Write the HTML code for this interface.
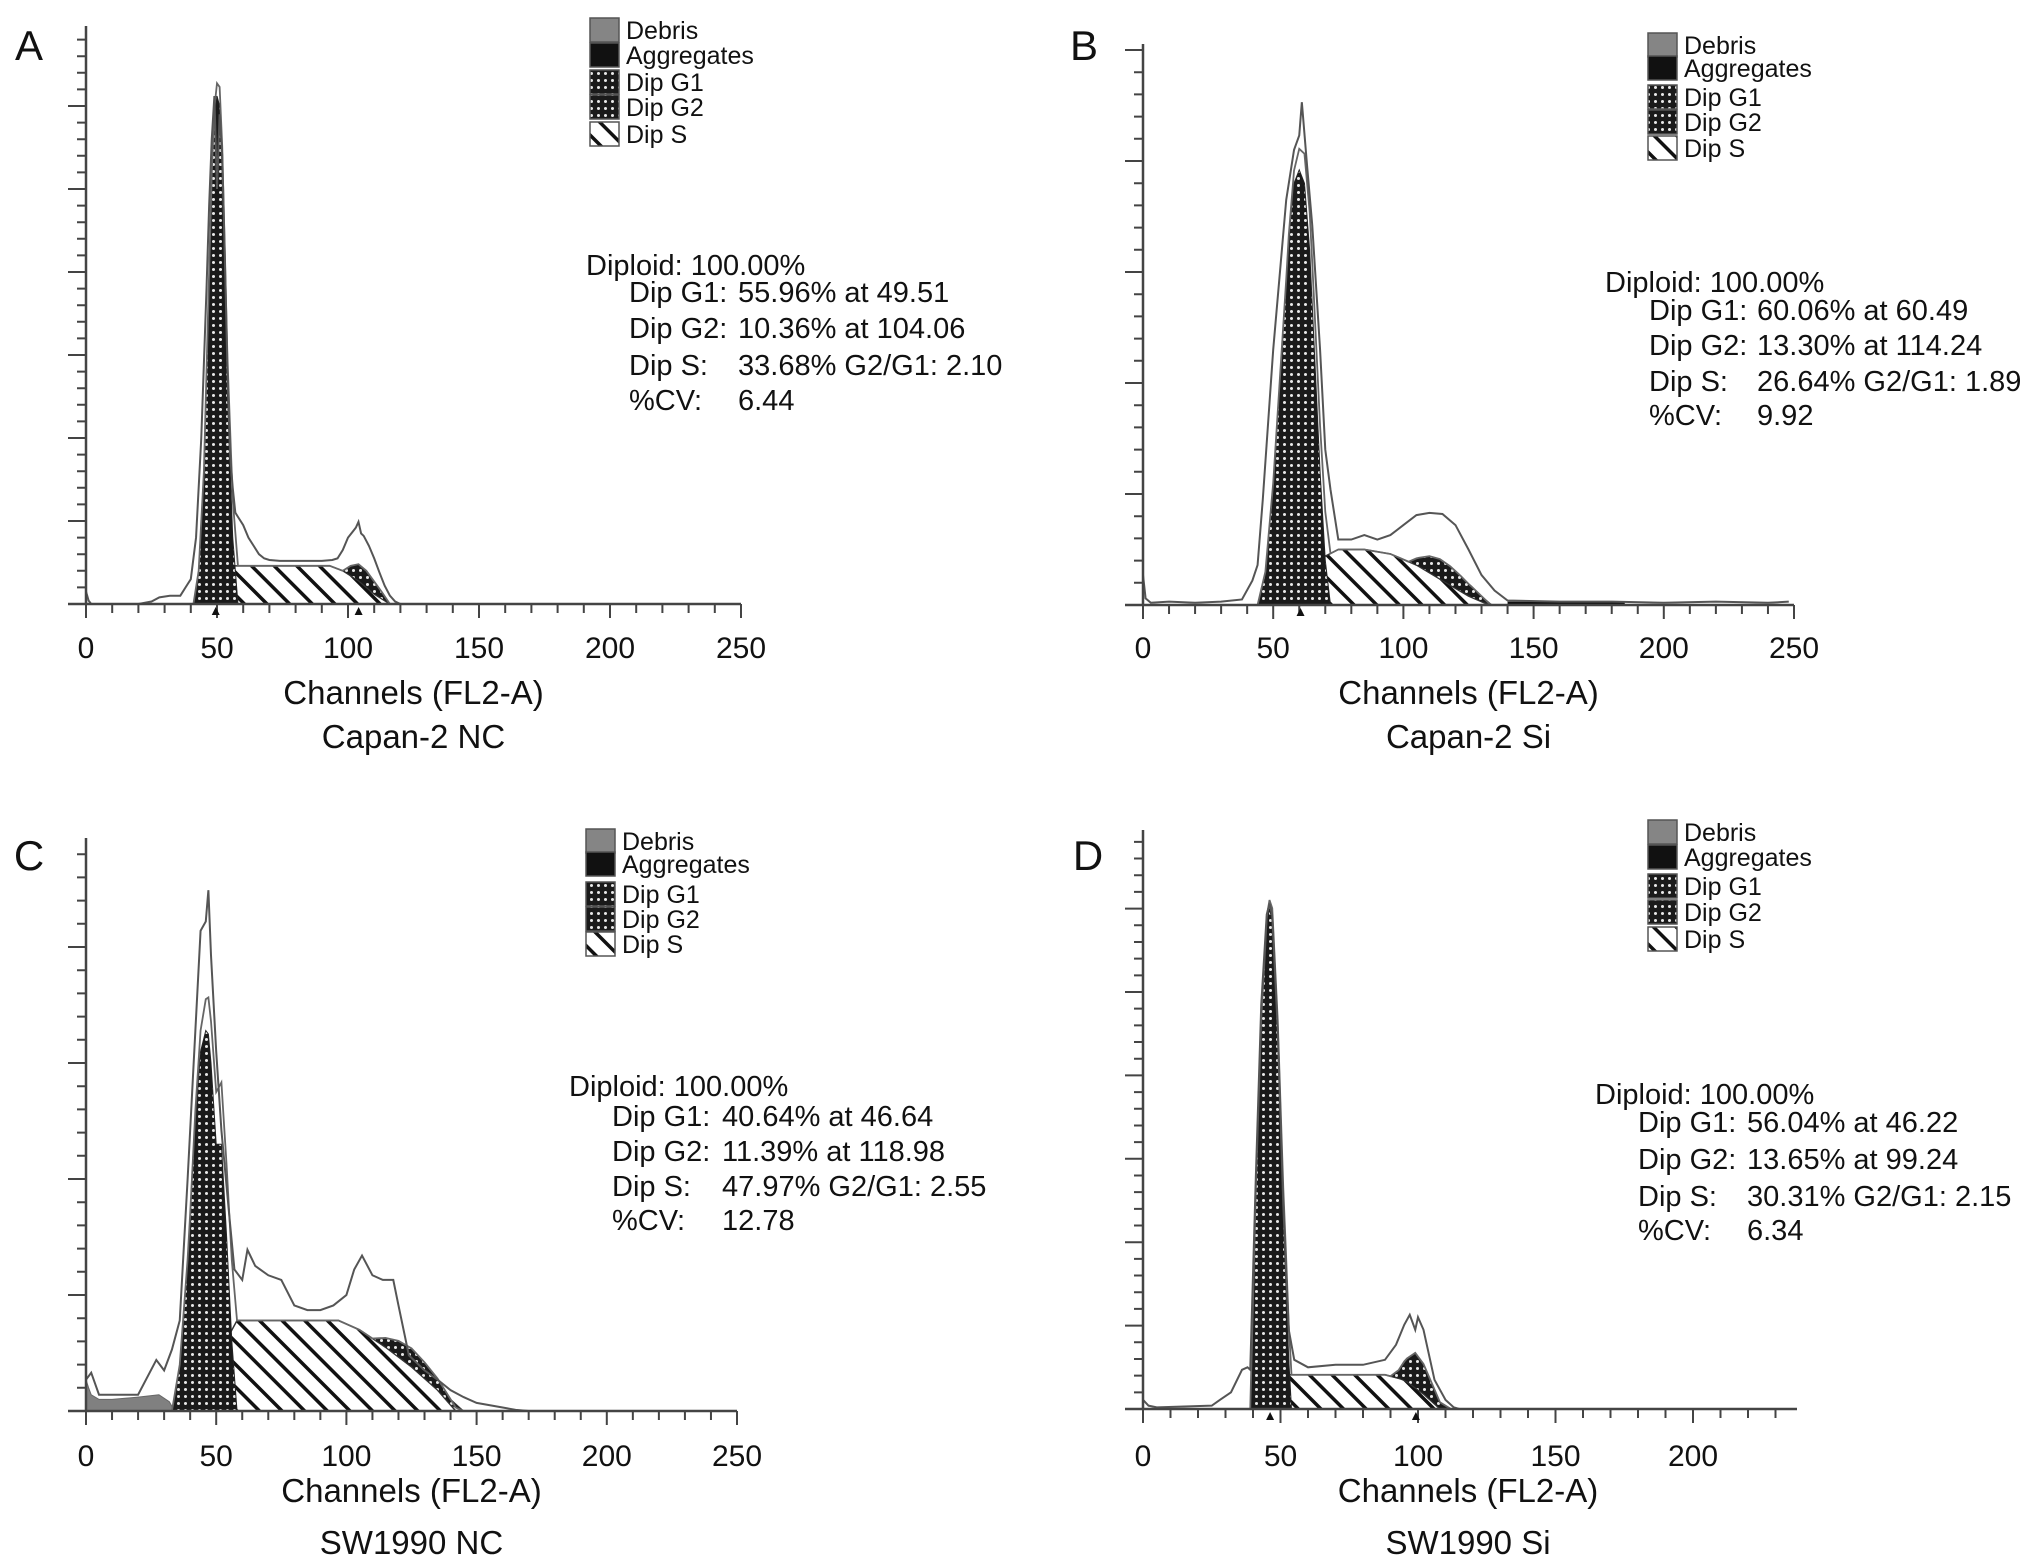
<!DOCTYPE html>
<html><head><meta charset="utf-8"><style>
html,body{margin:0;padding:0;background:#fff;}
svg{display:block;font-family:"Liberation Sans",Arial,sans-serif;}
</style></head><body>
<svg id="fig" width="2032" height="1560" viewBox="0 0 2032 1560" xmlns="http://www.w3.org/2000/svg">
<defs>
<pattern id="dots" width="7" height="7" patternUnits="userSpaceOnUse">
<rect width="7" height="7" fill="#1a1a1a"/><circle cx="3.5" cy="3.5" r="1.5" fill="#e8e8e8"/>
</pattern>
<pattern id="hatch" width="16" height="16" patternUnits="userSpaceOnUse" patternTransform="rotate(-45)">
<rect width="16" height="16" fill="#fff"/><rect x="0" y="0" width="3.5" height="16" fill="#111"/>
</pattern>
</defs>
</svg>
<script>
// ---- Panel A data (Capan-2 NC) ----
const aRawCh=[0,1,2,5,20,25,28,32,36,38,40,42,44,46,47,48,49,50,51,52,53,54,55,56,57,58,60,62,64,66,68,70,74,78,82,86,90,94,96,98,100,102,103,104,105,106,108,110,112,114,116,118,120];
const aRaw=[15,4,0,0,0,3,8,10,10,20,30,80,200,380,480,560,612,500,590,540,420,280,180,140,110,105,95,80,70,60,55,53,52,52,52,52,52,53,55,65,80,88,92,99,85,82,70,55,38,22,10,3,0];
const aG1Ch=[41,43,45,47,48,49,50,51,52,53,54,56,58];
const aG1=[0,40,160,400,520,590,612,600,520,380,250,80,0];
const aSCh=[48,54,60,93,98,104,110,116];
const aS=[0,46,46,46,40,28,12,0];
const aG2Ch=[98,101,104,107,110,113,116];
const aG2=[0,12,20,20,15,8,0];
const aDebCh=[], aDeb=[], aAggCh=[], aAgg=[];
// ---- Panel B data (Capan-2 Si) ----
const bRawCh=[0,1,3,10,20,30,38,42,44,46,50,55,58,60,61,63,65,68,70,72,75,80,85,90,95,100,105,110,115,120,125,130,135,140,160,180,200,220,240,248];
const bRaw=[27,6,2,3,2,3,5,22,36,95,230,365,410,423,453,396,342,230,140,104,59,59,63,59,63,72,81,83,82,72,50,27,13,4,3,3,2,3,2,3];
const bG1Ch=[44,47,50,53,56,58,60,62,64,66,68,70,72];
const bG1=[0,30,110,220,330,380,392,380,320,220,120,40,0];
const bSCh=[55,65,75,85,95,105,115,125,133];
const bS=[0,38,50,50,46,36,22,8,0];
const bG2Ch=[102,106,110,114,118,122,126,130,134];
const bG2=[0,8,15,18,17,14,10,5,0];
const bDebCh=[], bDeb=[];
const bAggCh=[140,185];
const bAgg=[3,3];
// ---- Panel C data (SW1990 NC) ----
const cRawCh=[0,2,5,10,20,27,30,33,36,39,42,44,46,47,48,50,52,55,57,60,62,65,70,75,80,85,90,95,100,103,106,110,114,118,120,124,130,135,140,145,150,160,165,170];
const cRaw=[27,33,14,14,14,44,35,53,78,199,328,414,422,449,393,310,242,169,122,113,139,125,117,113,91,87,87,91,100,122,134,117,113,113,91,48,35,27,18,12,7,3,1,0];
const cG1Ch=[33,36,39,42,44,46,47,48,50,52,54,56,58];
const cG1=[0,40,130,250,310,328,325,300,230,230,150,60,0];
const cSCh=[40,50,58,97,105,115,125,135,142];
const cS=[0,45,78,78,70,55,38,18,0];
const cG2Ch=[110,115,120,125,130,135,140,145];
const cG2=[0,8,14,16,14,10,5,0];
const cDebCh=[0,1,2,5,10,20,28,32,34];
const cDeb=[27,20,14,10,10,12,14,8,0];
const cAggCh=[], cAgg=[];
// ---- Panel D data (SW1990 Si) ----
const dRawCh=[0,2,5,15,25,28,32,36,38,39,41,43,45,46,47,49,51,53,55,60,70,80,88,92,95,97,99,100,102,104,106,110,113,115];
const dRaw=[11,4,2,3,4,11,20,47,50,47,275,485,593,606,592,455,245,95,59,50,53,53,59,77,101,113,95,110,95,65,35,11,2,0];
const dG1Ch=[39,41,43,45,46,47,49,51,53,54];
const dG1=[0,260,470,585,600,585,440,230,60,0];
const dSCh=[44,52,88,95,102,108];
const dS=[0,41,41,35,18,0];
const dG2Ch=[90,93,96,99,102,105,108,112];
const dG2=[0,10,28,42,36,22,8,0];
const dDebCh=[], dDeb=[], dAggCh=[], dAgg=[];
// ---- axis tick labels ----
const xTicksABC=[0,50,100,150,200,250];
const xTicksD=[0,50,100,150,200];
const legendLabels=["Debris","Aggregates","Dip G1","Dip G2","Dip S"];
const statsA=["Diploid: 100.00%","Dip G1:","55.96% at 49.51","Dip G2:","10.36% at 104.06","Dip S:","33.68% G2/G1: 2.10","%CV:","6.44"];
const statsB=["Diploid: 100.00%","Dip G1:","60.06% at 60.49","Dip G2:","13.30% at 114.24","Dip S:","26.64% G2/G1: 1.89","%CV:","9.92"];
const statsC=["Diploid: 100.00%","Dip G1:","40.64% at 46.64","Dip G2:","11.39% at 118.98","Dip S:","47.97% G2/G1: 2.55","%CV:","12.78"];
const statsD=["Diploid: 100.00%","Dip G1:","56.04% at 46.22","Dip G2:","13.65% at 99.24","Dip S:","30.31% G2/G1: 2.15","%CV:","6.34"];

const NS="http://www.w3.org/2000/svg";
const svg=document.getElementById('fig');
function mk(tag,attrs,parent){const e=document.createElementNS(NS,tag);for(const k in attrs)e.setAttribute(k,attrs[k]);(parent||svg).appendChild(e);return e;}
function interp(xs,ys,x){if(!xs.length||x<=xs[0]||x>=xs[xs.length-1])return 0;for(let i=1;i<xs.length;i++){if(x<=xs[i]){const t=(x-xs[i-1])/(xs[i]-xs[i-1]);return ys[i-1]+t*(ys[i]-ys[i-1]);}}return 0;}

const panels=[
 {id:'a',letter:'A',lx:29,ly:45,x0:86,x1:741,chMax:250,base:604,pxPer100:83,top:26,xt:xTicksABC,
  raw:[aRawCh,aRaw],g1:[aG1Ch,aG1],s:[aSCh,aS],g2:[aG2Ch,aG2],deb:[aDebCh,aDeb],agg:[aAggCh,aAgg],
  legX:590,legY:[30,55,82,107,134],stats:statsA,sx:586,sy:[265,292,328,365,400],si:629,sv:738,title:'Capan-2 NC',tickY:647,chY:692,tiY:736,g1c:49.51,g2c:104.06},
 {id:'b',letter:'B',lx:1084,ly:45,x0:1143,x1:1794,chMax:250,base:605,pxPer100:111,top:44,xt:xTicksABC,
  raw:[bRawCh,bRaw],g1:[bG1Ch,bG1],s:[bSCh,bS],g2:[bG2Ch,bG2],deb:[bDebCh,bDeb],agg:[bAggCh,bAgg],
  legX:1648,legY:[45,68,97,122,148],stats:statsB,sx:1605,sy:[282,310,345,381,415],si:1649,sv:1757,title:'Capan-2 Si',tickY:647,chY:692,tiY:736,g1c:60.49,g2c:null},
 {id:'c',letter:'C',lx:29,ly:855,x0:86,x1:737,chMax:250,base:1411,pxPer100:116,top:838,xt:xTicksABC,
  raw:[cRawCh,cRaw],g1:[cG1Ch,cG1],s:[cSCh,cS],g2:[cG2Ch,cG2],deb:[cDebCh,cDeb],agg:[cAggCh,cAgg],
  legX:586,legY:[841,864,894,919,944],stats:statsC,sx:569,sy:[1086,1116,1151,1186,1220],si:612,sv:722,title:'SW1990 NC',tickY:1455,chY:1490,tiY:1542,g1c:null,g2c:null},
 {id:'d',letter:'D',lx:1088,ly:855,x0:1143,x1:1693,chMax:200,base:1409,pxPer100:83.4,top:830,xt:xTicksD,axEnd:1797,
  raw:[dRawCh,dRaw],g1:[dG1Ch,dG1],s:[dSCh,dS],g2:[dG2Ch,dG2],deb:[dDebCh,dDeb],agg:[dAggCh,dAgg],
  legX:1648,legY:[832,857,886,912,939],stats:statsD,sx:1595,sy:[1094,1122,1159,1196,1230],si:1638,sv:1747,title:'SW1990 Si',tickY:1455,chY:1490,tiY:1542,g1c:46.22,g2c:99.24}
];

panels.forEach(p=>{
 const g=mk('g',{});
 
 
 const X=c=>p.x0+(p.x1-p.x0)*c/p.chMax;
 const Y=v=>p.base-v*p.pxPer100/100;
 const axEnd=p.axEnd||p.x1;
 const L=mk('text',{x:p.lx,y:p.ly+15,'font-size':42,'text-anchor':'middle',fill:'#111'},g);L.textContent=p.letter;
 
 
 const sPts=p.s[0].map((c,i)=>X(c)+','+Y(p.s[1][i]));
 const sPoly=mk('polygon',{points:sPts.join(' '),fill:'url(#hatch)',stroke:'#333','stroke-width':1.5},g);
 
 
 if(p.deb[0].length){
  const pts=p.deb[0].map((c,i)=>X(c)+','+Y(p.deb[1][i]));
  pts.push(X(p.deb[0][p.deb[0].length-1])+','+Y(0));pts.push(X(p.deb[0][0])+','+Y(0));
  const d=mk('polygon',{points:pts.join(' '),fill:'#808080',stroke:'#666','stroke-width':1},g);
  
  
 }
 if(p.agg[0].length){
  const a=mk('rect',{x:X(p.agg[0][0]),y:Y(p.agg[1][0]),width:X(p.agg[0][1])-X(p.agg[0][0]),height:Y(0)-Y(p.agg[1][0]),fill:'#111'},g);
  
  
 }
 const g2Top=p.g2[0].map((c,i)=>X(c)+','+Y(p.g2[1][i]+interp(p.s[0],p.s[1],c)));
 const g2Bot=p.g2[0].slice().reverse().map(c=>X(c)+','+Y(interp(p.s[0],p.s[1],c)));
 const g2p=mk('polygon',{points:g2Top.concat(g2Bot).join(' '),fill:'url(#dots)',stroke:'#333','stroke-width':1},g);
 
 
 const g1Pts=p.g1[0].map((c,i)=>X(c)+','+Y(p.g1[1][i]));
 const g1p=mk('polygon',{points:g1Pts.join(' '),fill:'url(#dots)',stroke:'#222','stroke-width':1},g);
 
 
 const allCh=[...new Set([].concat(p.g1[0],p.s[0],p.g2[0]))].sort((a,b)=>a-b);
 const fit=allCh.map(c=>X(c)+','+Y(interp(p.g1[0],p.g1[1],c)+interp(p.s[0],p.s[1],c)+interp(p.g2[0],p.g2[1],c)));
 const fl=mk('polyline',{points:fit.join(' '),fill:'none',stroke:'#666','stroke-width':1.8},g);
 
 
 const rp=p.raw[0].map((c,i)=>X(c)+','+Y(p.raw[1][i]));
 const rl=mk('polyline',{points:rp.join(' '),fill:'none',stroke:'#555','stroke-width':2},g);
 
 
 const ax=mk('path',{d:`M${p.x0},${p.top} V${p.base} M${p.x0-18},${p.base} H${axEnd}`,stroke:'#444','stroke-width':2.5,fill:'none'},g);
 
 
 let yd='';
 for(let v=0;Y(v)>=p.top-1;v+=20){const len=(v%100===0)?18:9;yd+=`M${p.x0-len},${Y(v)} H${p.x0} `;}
 const yt=mk('path',{d:yd,stroke:'#444','stroke-width':2},g);
 
 
 let xd='';
 for(let c=0;X(c)<=axEnd+1;c+=10){const len=(c%50===0)?14:9;xd+=`M${X(c)},${p.base} V${p.base+len} `;}
 const xtk=mk('path',{d:xd,stroke:'#444','stroke-width':2},g);
 
 
 p.xt.forEach(c=>{const t=mk('text',{x:X(c),y:p.tickY+11,'font-size':30,'text-anchor':'middle',fill:'#111'},g);t.textContent=c;
  
  });
 [p.g1c,p.g2c].forEach(c=>{if(c==null)return;const m=mk('polygon',{points:`${X(c)-4},${p.base+11} ${X(c)+4},${p.base+11} ${X(c)},${p.base+3}`,fill:'#111'},g);
  
  });
 const xl=mk('text',{x:(p.x0+p.x1)/2+(p.id==='d'?50:0),y:p.chY+12,'font-size':33,'text-anchor':'middle',fill:'#111'},g);xl.textContent='Channels (FL2-A)';
 
 
 const ti=mk('text',{x:(p.x0+p.x1)/2+(p.id==='d'?50:0),y:p.tiY+12,'font-size':33,'text-anchor':'middle',fill:'#111'},g);ti.textContent=p.title;
 
 
 const fills=['#858585','#111','url(#dots)','url(#dots)','url(#hatch)'];
 legendLabels.forEach((lab,i)=>{
  const cy=p.legY[i];
  const r=mk('rect',{x:p.legX,y:cy-12,width:29,height:24,fill:fills[i],stroke:'#555','stroke-width':1.5},g);
  
  
  const t=mk('text',{x:p.legX+36,y:cy+9,'font-size':25,fill:'#111'},g);t.textContent=lab;
  
  
 });
 const s=p.stats;
 const t0=mk('text',{x:p.sx,y:p.sy[0]+10,'font-size':29,fill:'#111'},g);t0.textContent=s[0];
 
 
 for(let i=1;i<5;i++){
  const a=mk('text',{x:p.si,y:p.sy[i]+10,'font-size':29,fill:'#111'},g);a.textContent=s[2*i-1];
  
  
  const b=mk('text',{x:p.sv,y:p.sy[i]+10,'font-size':29,fill:'#111'},g);b.textContent=s[2*i];
  
  
 }
});
</script>
</body></html>
